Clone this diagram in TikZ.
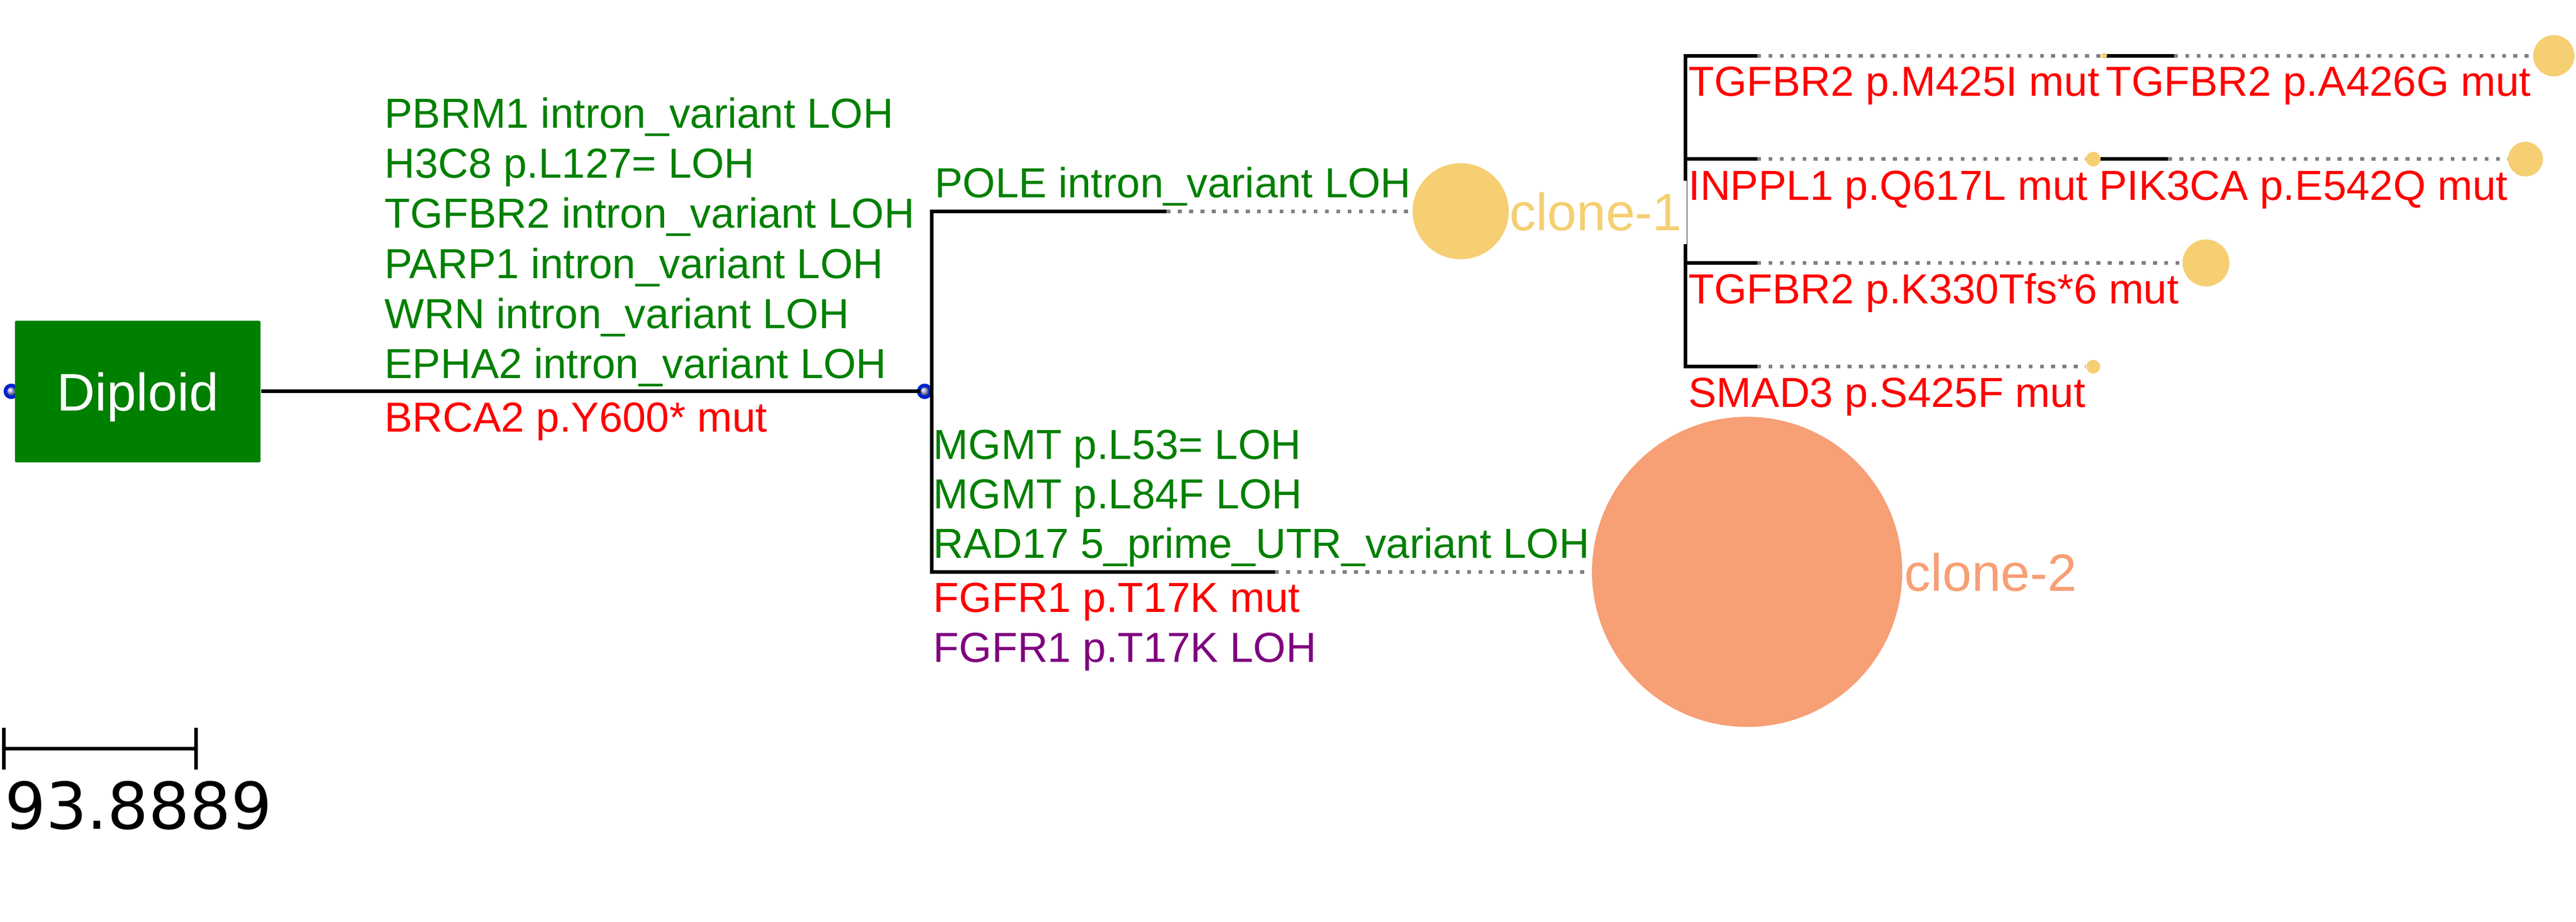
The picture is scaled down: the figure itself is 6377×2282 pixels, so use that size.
\documentclass[tikz,border=0pt]{standalone}
\usepackage{fontspec}
\setmainfont{Liberation Sans}
\newfontfamily\dejavu{DejaVu Sans}
\definecolor{tgreen}{RGB}{0,128,0}
\definecolor{tred}{RGB}{255,0,0}
\definecolor{tpurple}{RGB}{128,0,128}
\definecolor{tgold}{RGB}{245,207,114}
\definecolor{tsalmon}{RGB}{247,159,117}
\definecolor{dotgrey}{RGB}{128,128,128}
\definecolor{ringblue}{RGB}{0,34,204}
\begin{document}
\begin{tikzpicture}[x=0.1pt,y=-0.1pt,
  lab/.style={anchor=base west,inner sep=0pt,font=\fontsize{10.4}{12}\selectfont},
  grn/.style={lab,text=tgreen},
  rd/.style={lab,text=tred},
  prp/.style={lab,text=tpurple},
  branch/.style={line width=0.9pt,draw=black,line join=miter},
  dots/.style={line width=0.9pt,draw=dotgrey,dash pattern=on 0.95pt off 1.85pt},
  goldclone/.style={circle,fill=tgold,inner sep=0pt,minimum size=#1},
  ring/.style={circle,fill=ringblue,inner sep=0pt,minimum size=3.8pt},
  ringball/.style={ball color=ringblue!30!white}
]
\useasboundingbox (0,0) rectangle (6377,2282);

% root
\node[ring] (r0) at (28,969) {};
\shade[ringball] (r0.center) circle[radius=10];
\node[fill=tgreen,rounded corners=0.4pt,minimum width=60.8pt,minimum height=35.1pt,inner sep=0pt,
      text=white,font=\fontsize{13.1}{15}\selectfont,text depth=0pt] (dip) at (341,969.5) {Diploid};

% trunk
\node[ring] (r1) at (2289,969) {};
\draw[branch] (dip.east |- r1) -- (r1.center);
\shade[ringball] (r1.center) circle[radius=10];

\coordinate (v1top) at (2307,523);
\coordinate (v1bot) at (2307,1416);
\coordinate (p1) at (2888,523);
\coordinate (p2) at (3156,1416);
\draw[branch] (p1) -- (v1top) -- (v1bot) -- (p2);

% subclone structure of clone-1
\coordinate (s1top) at (4173,138);
\coordinate (s1bot) at (4173,908);
\coordinate (q1) at (4350,138);
\coordinate (q2) at (4350,394);
\coordinate (q3) at (4350,651);
\coordinate (q4) at (4350,908);
\coordinate (sA) at (5209,138);
\coordinate (sC) at (5182,394);
\coordinate (q5) at (5382,138);
\coordinate (q6) at (5367,394);
\draw[branch] (q1) -- (s1top) -- (s1bot) -- (q4);
\draw[branch] (s1top |- q2) -- (q2);
\draw[branch] (s1top |- q3) -- (q3);
\draw[branch] (sA) -- (q5);
\draw[branch] (sC) -- (q6);

% clone labels (white box covers part of the subclone line)
\node[anchor=base west,fill=white,inner xsep=1.2pt,inner ysep=0.5pt,text height=11.8pt,text depth=2.8pt,
      text=tgold,font=\fontsize{13}{15}\selectfont] (l1) at (3723,571) {clone-1};
\node[anchor=base west,inner sep=0pt,text=tsalmon,font=\fontsize{13}{15}\selectfont] (l2) at (4713,1463) {clone-2};

% clones
\node[goldclone=23.8pt] (c1) at (3616,523) {};
\node[circle,fill=tsalmon,inner sep=0pt,minimum size=76.8pt] (c2) at (4325,1416) {};
\draw[dots] (p1) -- (c1.west);
\draw[dots] (p2) -- (c2.west);

\node[goldclone=1.4pt] (cA) at (sA) {};
\node[goldclone=10.2pt] (cB) at (6322,138) {};
\node[goldclone=3.6pt] (cC) at (sC) {};
\node[goldclone=8.6pt] (cD) at (6252,394) {};
\node[goldclone=11.6pt] (cE) at (5461,651) {};
\node[goldclone=3.4pt] (cF) at (5182,908) {};
\draw[dots] (q1) -- (cA.west);
\draw[dots] (q5) -- (cB.west);
\draw[dots] (q2) -- (cC.west);
\draw[dots] (q6) -- (cD.west);
\draw[dots] (q3) -- (cE.west);
\draw[dots] (q4) -- (cF.west);
\node[goldclone=1.4pt] at (sA) {};
\node[goldclone=3.6pt] at (sC) {};

% trunk labels
\node[grn] (t1) at (950,317) {PBRM1 intron\_variant LOH};
\node[grn] (t2) at (950,441) {H3C8 p.L127= LOH};
\node[grn] (t3) at (950,565) {TGFBR2 intron\_variant LOH};
\node[grn] (t4) at (950,689) {PARP1 intron\_variant LOH};
\node[grn] (t5) at (950,813) {WRN intron\_variant LOH};
\node[grn] (t6) at (950,937) {EPHA2 intron\_variant LOH};
\node[rd] (t7) at (950,1069) {BRCA2 p.Y600* mut};

% clone-1 branch label
\node[grn] (u1) at (2312,489) {POLE intron\_variant LOH};

% clone-2 branch labels
\node[grn] (w1) at (2309,1137) {MGMT p.L53= LOH};
\node[grn] (w2) at (2309,1260) {MGMT p.L84F LOH};
\node[grn] (w3) at (2309,1382) {RAD17 5\_prime\_UTR\_variant LOH};
\node[rd] (w4) at (2309,1516) {FGFR1 p.T17K mut};
\node[prp] (w5) at (2309,1640) {FGFR1 p.T17K LOH};

% subclone labels
\node[rd] (m1) at (4178,238) {TGFBR2 p.M425I mut};
\node[rd] (m2) at (5211,238) {TGFBR2 p.A426G mut};
\node[rd] (m3) at (4178,495) {INPPL1 p.Q617L mut};
\node[rd] (m4) at (5194,495) {PIK3CA p.E542Q mut};
\node[rd] (m5) at (4178,752) {TGFBR2 p.K330Tfs*6 mut};
\node[rd] (m6) at (4178,1008) {SMAD3 p.S425F mut};

% scale bar
\coordinate (sb1) at (9,1854);
\coordinate (sb2) at (485,1854);
\coordinate (sb1t) at (9,1802);
\coordinate (sb1b) at (9,1906);
\coordinate (sb2t) at (485,1802);
\coordinate (sb2b) at (485,1906);
\draw[line width=0.9pt] (sb1) -- (sb2);
\draw[line width=0.9pt] (sb1t) -- (sb1b);
\draw[line width=0.9pt] (sb2t) -- (sb2b);
\node[anchor=base west,inner sep=0pt,font=\dejavu\fontsize{16}{19}\selectfont] (sbt) at (10,2053) {93.8889};
\end{tikzpicture}
\end{document}
